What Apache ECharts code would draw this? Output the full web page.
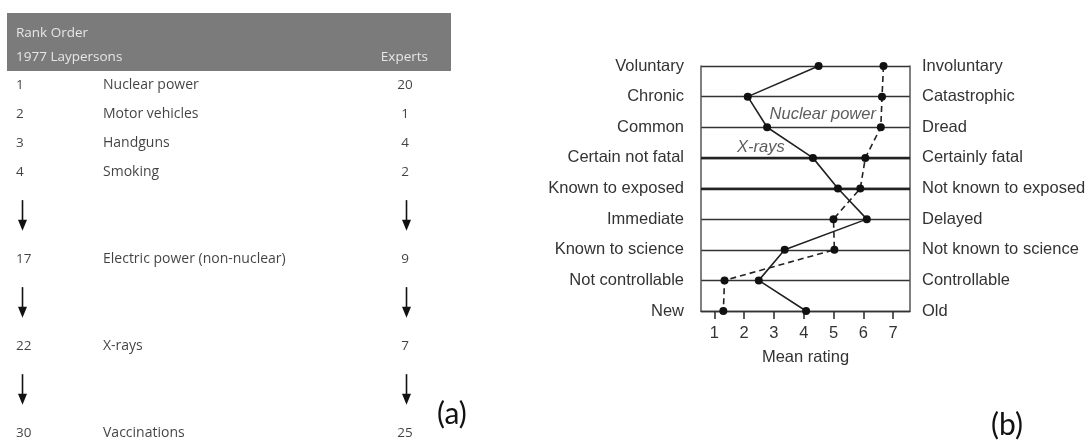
<!DOCTYPE html>
<html>
<head>
<meta charset="utf-8">
<script src="https://cdn.jsdelivr.net/npm/echarts@6/dist/echarts.min.js"></script>
<style>
html,body{margin:0;padding:0;background:#fff;}
#chart{width:1089px;height:442px;}
</style>
</head>
<body>
<div id="chart"></div>
<script>
// ---- Table (a) data ----
var headerTitle = 'Rank Order';
var headerLay = '1977 Laypersons';
var headerExperts = 'Experts';
var hazards = ['Nuclear power', 'Motor vehicles', 'Handguns', 'Smoking', 'Electric power (non-nuclear)', 'X-rays', 'Vaccinations'];
var layRank = [1, 2, 3, 4, 17, 22, 30];
var expertRank = [20, 1, 4, 2, 9, 7, 25];
var tableRow = [0, 1, 2, 3, 6, 9, 12];
var arrowRow = [4.5, 7.5, 10.5];

// ---- Chart (b) data ----
var leftLabels = ['Voluntary', 'Chronic', 'Common', 'Certain not fatal', 'Known to exposed', 'Immediate', 'Known to science', 'Not controllable', 'New'];
var rightLabels = ['Involuntary', 'Catastrophic', 'Dread', 'Certainly fatal', 'Not known to exposed', 'Delayed', 'Not known to science', 'Controllable', 'Old'];
var xraysRating = [4.5, 2.12, 2.77, 4.31, 5.15, 6.12, 3.36, 2.49, 4.08];
var nuclearRating = [6.68, 6.63, 6.59, 6.07, 5.9, 5.0, 5.03, 1.34, 1.30];
var ratingTicks = [1, 2, 3, 4, 5, 6, 7];
var thickRows = [3, 4];
var annotations = [[4.64, 1.57, 'Nuclear power'], [2.56, 2.65, 'X-rays']];
var panelLabels = ['(a)', '(b)'];

var chart = echarts.init(document.getElementById('chart'), null, {renderer: 'canvas'});
var FONT_B = 'Liberation Sans, Arial, sans-serif';
var FONT_A = 'Open Sans, sans-serif';
var hazardCol = (103 - 16) / 389;
var arrowLeftCol = (21.5 - 16) / 389;
var arrowRightCol = (406 - 16) / 389;

var arrowData = [];
arrowRow.forEach(function (r) {
  arrowData.push([arrowLeftCol, r - 0.53, r + 0.53]);
  arrowData.push([arrowRightCol, r - 0.53, r + 0.53]);
});

var option = {
  animation: false,
  backgroundColor: '#fff',
  grid: [
    {left: 701, right: 179, top: 66, bottom: 131, containLabel: false},
    {left: 16, width: 389, top: 56, bottom: 9, containLabel: false}
  ],
  xAxis: [
    {
      type: 'value', gridIndex: 0, min: 0.55, max: 7.57, position: 'bottom',
      name: 'Mean rating', nameLocation: 'middle', nameGap: 38,
      nameTextStyle: {fontFamily: FONT_B, fontSize: 16.5, color: '#333'},
      axisLine: {show: true, onZero: false, lineStyle: {color: '#333', width: 1.4}},
      axisTick: {show: true, length: 8, inside: false, customValues: ratingTicks, lineStyle: {color: '#333', width: 1.6}},
      axisLabel: {show: true, customValues: ratingTicks, margin: 14, fontFamily: FONT_B, fontSize: 16.5, color: '#333'},
      splitLine: {show: false}
    },
    {type: 'value', gridIndex: 1, min: 0, max: 1, show: false}
  ],
  yAxis: [
    {
      type: 'category', gridIndex: 0, data: leftLabels, inverse: true, boundaryGap: false, position: 'left',
      axisLine: {show: true, onZero: false, lineStyle: {color: '#555', width: 1.5}},
      axisTick: {show: false},
      axisLabel: {margin: 17, fontFamily: FONT_B, fontSize: 16.5, color: '#333'},
      splitLine: {show: true, lineStyle: {color: '#333', width: 1.4}}
    },
    {
      type: 'category', gridIndex: 0, data: rightLabels, inverse: true, boundaryGap: false, position: 'right',
      axisLine: {show: true, onZero: false, lineStyle: {color: '#555', width: 1.5}},
      axisTick: {show: false},
      axisLabel: {margin: 12, fontFamily: FONT_B, fontSize: 16.5, color: '#333'},
      splitLine: {show: false}
    },
    {type: 'value', gridIndex: 0, min: 0, max: 8, inverse: true, show: false},
    {type: 'value', gridIndex: 1, min: -1, max: 12, inverse: true, show: false}
  ],
  graphic: [
    {type: 'rect', shape: {x: 7, y: 13, width: 444, height: 58}, style: {fill: '#7b7b7b'}, z: 0},
    {type: 'text', x: 16, y: 33, style: {text: headerTitle, font: '13.5px ' + FONT_A, fill: '#e6e6e6', verticalAlign: 'middle'}},
    {type: 'text', x: 16, y: 57, style: {text: headerLay, font: '13.5px ' + FONT_A, fill: '#e6e6e6', verticalAlign: 'middle'}},
    {type: 'text', x: 428, y: 57, style: {text: headerExperts, font: '13.5px ' + FONT_A, fill: '#e6e6e6', align: 'right', verticalAlign: 'middle'}},
    {type: 'text', x: 437, y: 414, style: {text: panelLabels[0], font: '30px Lato, sans-serif', fill: '#111', verticalAlign: 'middle'}},
    {type: 'text', x: 991, y: 425, style: {text: panelLabels[1], font: '30px Lato, sans-serif', fill: '#111', verticalAlign: 'middle'}}
  ],
  series: [
    {
      name: 'X-rays', type: 'line', xAxisIndex: 0, yAxisIndex: 0,
      data: xraysRating.map(function (v, i) { return [v, leftLabels[i]]; }),
      symbol: 'circle', symbolSize: 8, itemStyle: {color: '#111'},
      lineStyle: {color: '#222', width: 1.6}, z: 5,
      markLine: {
        silent: true, symbol: ['none', 'none'], label: {show: false}, z: 3,
        lineStyle: {color: '#222', width: 2.4, type: 'solid'},
        data: thickRows.map(function (r) { return {yAxis: r}; })
      }
    },
    {
      name: 'Nuclear power', type: 'line', xAxisIndex: 0, yAxisIndex: 0,
      data: nuclearRating.map(function (v, i) { return [v, leftLabels[i]]; }),
      symbol: 'circle', symbolSize: 8, itemStyle: {color: '#111'},
      lineStyle: {color: '#222', width: 1.6, type: [6, 4]}, z: 5
    },
    {
      type: 'scatter', xAxisIndex: 0, yAxisIndex: 2, symbolSize: 0, silent: true,
      data: annotations.map(function (a) { return [a[0], a[1], a[2]]; }),
      label: {show: true, position: 'inside', formatter: function (p) { return p.data[2]; },
        fontFamily: FONT_B, fontStyle: 'italic', fontSize: 16.5, color: '#333'}
    },
    {
      type: 'scatter', xAxisIndex: 1, yAxisIndex: 3, symbolSize: 0, silent: true,
      data: layRank.map(function (v, i) { return [0, tableRow[i], v]; }),
      label: {show: true, position: 'right', distance: 0, formatter: function (p) { return String(p.data[2]); },
        fontFamily: FONT_A, fontSize: 13.5, color: '#111'}
    },
    {
      type: 'scatter', xAxisIndex: 1, yAxisIndex: 3, symbolSize: 0, silent: true,
      data: hazards.map(function (v, i) { return [hazardCol, tableRow[i], v]; }),
      label: {show: true, position: 'right', distance: 0, formatter: function (p) { return p.data[2]; },
        fontFamily: FONT_A, fontSize: 14, color: '#111'}
    },
    {
      type: 'scatter', xAxisIndex: 1, yAxisIndex: 3, symbolSize: 0, silent: true,
      data: expertRank.map(function (v, i) { return [1, tableRow[i], v]; }),
      label: {show: true, position: 'inside', formatter: function (p) { return String(p.data[2]); },
        fontFamily: FONT_A, fontSize: 13.5, color: '#111'}
    },
    {
      type: 'custom', xAxisIndex: 1, yAxisIndex: 3, silent: true,
      data: arrowData,
      renderItem: function (params, api) {
        var top = api.coord([api.value(0), api.value(1)]);
        var bot = api.coord([api.value(0), api.value(2)]);
        var x = Math.round(top[0]) + 0.5;
        return {
          type: 'group',
          children: [
            {type: 'line', shape: {x1: x, y1: top[1], x2: x, y2: bot[1] - 9}, style: {stroke: '#111', lineWidth: 1.6}},
            {type: 'polygon', shape: {points: [[x - 4.5, bot[1] - 11], [x + 4.5, bot[1] - 11], [x, bot[1]]]}, style: {fill: '#111'}}
          ]
        };
      }
    }
  ]
};
chart.setOption(option);
</script>
</body>
</html>
